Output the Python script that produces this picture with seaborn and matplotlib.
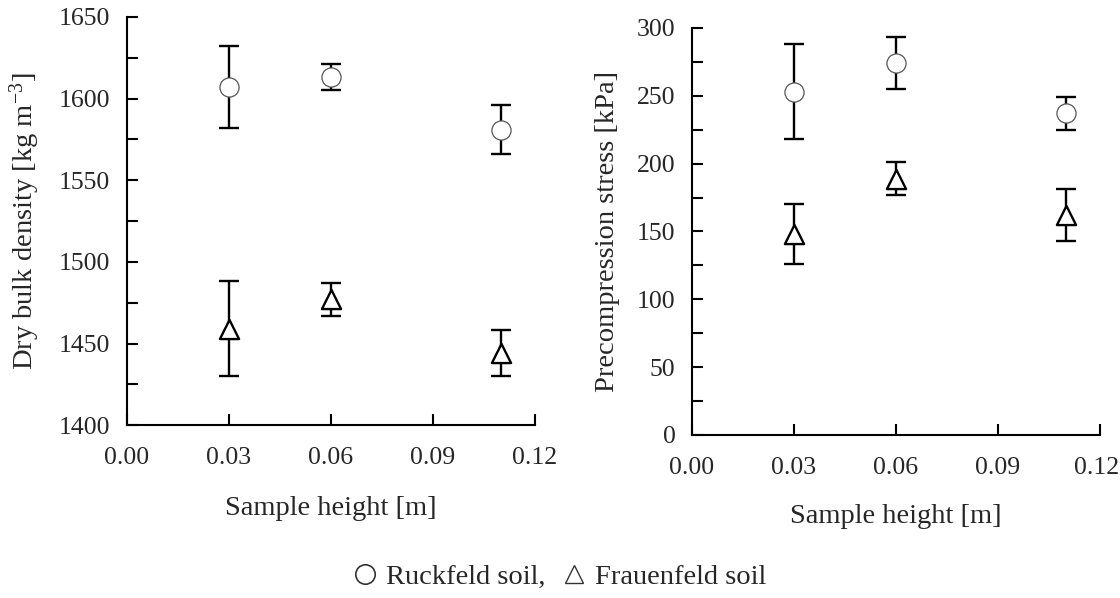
import matplotlib
matplotlib.use("Agg")
import matplotlib.pyplot as plt
import matplotlib.transforms as mtransforms
from matplotlib.lines import Line2D
import seaborn as sns
import numpy as np
import pandas as pd

# Sample heights [m]
heights = [0.03, 0.06, 0.11]

# Dry bulk density [kg m-3], mean and standard deviation
density_ruckfeld = [1607, 1613, 1581]
density_ruckfeld_sd = [25, 8, 15]
density_frauenfeld = [1459, 1477, 1444]
density_frauenfeld_sd = [29, 10, 14]

# Precompression stress [kPa], mean and standard deviation
stress_ruckfeld = [253, 274, 237]
stress_ruckfeld_sd = [35, 19, 12]
stress_frauenfeld = [148, 189, 162]
stress_frauenfeld_sd = [22, 12, 19]

x_ticks = [0.00, 0.03, 0.06, 0.09, 0.12]
x_ticklabels = ["0.00", "0.03", "0.06", "0.09", "0.12"]
soil_labels = ["Ruckfeld soil,", "Frauenfeld soil"]

sns.set_theme(style="ticks")
plt.rcParams["font.family"] = ["Liberation Serif", "DejaVu Sans"]
plt.rcParams["mathtext.fontset"] = "custom"
plt.rcParams["mathtext.rm"] = "Liberation Serif"
plt.rcParams["mathtext.it"] = "Liberation Serif:italic"

fig = plt.figure(figsize=(11.2, 5.98), dpi=100)
ax1 = fig.add_axes([0.1134, 0.289, 0.3643, 0.6826])
ax2 = fig.add_axes([0.6179, 0.2726, 0.3643, 0.6806])


def draw_series(ax, means, sds, marker, size, edge, lw):
    ax.errorbar(heights, means, yerr=sds, fmt="none", ecolor="black",
                elinewidth=1.7, capsize=7, capthick=1.7, zorder=2)
    df = pd.DataFrame({"h": heights, "v": means})
    sns.scatterplot(data=df, x="h", y="v", ax=ax, marker=marker, s=size,
                    facecolor="white", edgecolor=edge, linewidth=lw,
                    zorder=3, legend=False)


def style_axes(ax, ylim, major, minor, ylabel, xlabelpad):
    ax.set_xlim(0, 0.12)
    ax.set_ylim(*ylim)
    ax.set_xticks(x_ticks)
    ax.set_xticklabels(x_ticklabels)
    ax.set_yticks(major)
    ax.set_yticks(minor, minor=True)
    for side in ("top", "right"):
        ax.spines[side].set_visible(False)
    for side in ("left", "bottom"):
        ax.spines[side].set_linewidth(1.5)
        ax.spines[side].set_color("black")
    ax.tick_params(axis="both", which="both", direction="in", length=8,
                   width=1.5, color="black", labelsize=18.5)
    ax.tick_params(axis="x", which="both", pad=16)
    ax.tick_params(axis="y", which="both", pad=12)
    ax.set_xlabel("Sample height [m]", fontsize=20.5, labelpad=xlabelpad)
    ax.set_ylabel(ylabel, fontsize=20.5, labelpad=12)


draw_series(ax1, density_ruckfeld, density_ruckfeld_sd, "o", 190, "#555555", 0.9)
draw_series(ax1, density_frauenfeld, density_frauenfeld_sd, "^", 190, "black", 1.7)
style_axes(ax1, (1400, 1650), np.arange(1400, 1651, 50), np.arange(1425, 1650, 50),
           r"Dry bulk density [kg m$^{-3}$]", 19)

draw_series(ax2, stress_ruckfeld, stress_ruckfeld_sd, "o", 190, "#555555", 0.9)
draw_series(ax2, stress_frauenfeld, stress_frauenfeld_sd, "^", 190, "black", 1.7)
style_axes(ax2, (0, 300), np.arange(0, 301, 50), np.arange(25, 300, 50),
           "Precompression stress [kPa]", 18)

# keep the last tick label of the right panel inside the figure edge
last_label = ax2.get_xticklabels()[-1]
last_label.set_horizontalalignment("right")
last_label.set_transform(last_label.get_transform() +
                         mtransforms.ScaledTranslation(0.19, 0, fig.dpi_scale_trans))

handles = [
    Line2D([], [], linestyle="none", marker="o", markersize=14,
           markerfacecolor="white", markeredgecolor="#333333", markeredgewidth=1.2),
    Line2D([], [], linestyle="none", marker="^", markersize=13,
           markerfacecolor="white", markeredgecolor="#333333", markeredgewidth=1.0),
]
fig.legend(handles, soil_labels, loc="center", bbox_to_anchor=(0.5, 0.035),
           ncol=2, frameon=False, fontsize=20.5, handlelength=0.8,
           handletextpad=0.35, columnspacing=0.6, borderpad=0)

fig.savefig("out.png", dpi=100)
